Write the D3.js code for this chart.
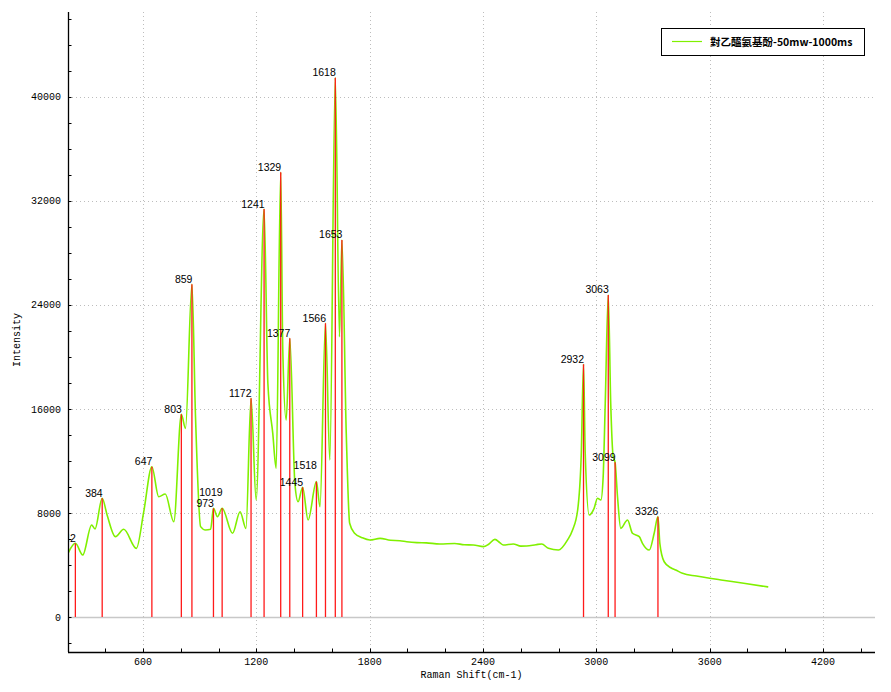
<!DOCTYPE html>
<html><head><meta charset="utf-8">
<script src="https://cdn.jsdelivr.net/npm/d3@7/dist/d3.min.js"></script>
<style>
body{margin:0;background:#fff;}
svg{display:block;}
</style></head>
<body><svg id="chart" width="891" height="692"></svg>
<script>
// ---- data ----
const seriesName = "對乙醯氨基酚-50mw-1000ms";
const shift = [203,242,281,328,346,384,410,454,498,565,604,647,683,718,763,803,825,859,878,905,931,958,973,994,1019,1074,1114,1145,1172,1199,1241,1261,1287,1305,1329,1340,1358,1377,1404,1421,1445,1474,1518,1537,1566,1589,1618,1640,1653,1676,1694,1720,1760,1801,1855,1910,1960,1996,2050,2100,2172,2250,2300,2349,2402,2430,2463,2490,2507,2560,2600,2631,2680,2711,2746,2799,2847,2874,2901,2920,2932,2941,2962,2988,3006,3024,3036,3047,3063,3076,3089,3099,3112,3129,3165,3191,3227,3244,3280,3306,3326,3336,3359,3394,3420,3456,3530,3600,3660,3780,3910];
const intensity = [4900,5670,4770,7080,6770,9130,7850,6180,6750,5280,8100,11560,9250,9460,7330,15590,14510,25590,15410,6950,6690,6750,8360,7720,8360,6440,8100,6820,16820,9000,31380,17980,14130,11440,34210,20540,15150,21440,10280,8870,9980,7460,10410,8480,22590,12080,41490,21560,29000,14130,7210,6440,6100,5920,6050,5900,5870,5790,5720,5700,5620,5650,5560,5540,5410,5600,5970,5700,5540,5620,5450,5460,5560,5620,5280,5150,5920,6690,8230,12500,19440,12590,7850,8360,9130,9000,10790,16440,24770,16440,12330,11900,9250,6820,7460,6440,6180,5670,5150,6440,7720,5670,4250,3790,3620,3360,3150,2980,2850,2600,2310];
const peakShift = [242,384,647,803,859,973,1019,1172,1241,1329,1377,1445,1518,1566,1618,1653,2932,3063,3099,3326];
const peakIntensity = [5670,9130,11560,15590,25590,8360,8360,16820,31380,34210,21440,9980,10410,22590,41490,29000,19440,24770,11900,7720];
const xTickValues = d3.range(400, 4401, 200);
const xLabelValues = [600,1200,1800,2400,3000,3600,4200];
const yTickValues = d3.range(-2000, 46001, 2000);
const yLabelValues = [0,8000,16000,24000,32000,40000];
const xDomain = [203, 4475];
const yDomain = [-2692, 46538];

// ---- layout ----
const L = 68, R = 875, T = 12, B = 652;
const svg = d3.select("#chart");
const x = d3.scaleLinear().domain(xDomain).range([L, R]);
const y = d3.scaleLinear().domain(yDomain).range([B, T]);

svg.append("defs").append("clipPath").attr("id","plotclip")
  .append("rect").attr("x",L).attr("y",T).attr("width",R-L).attr("height",B-T);

// gridlines
const grid = svg.append("g");
grid.selectAll("line.hg").data(yLabelValues.filter(v=>v!==0)).join("line")
  .attr("x1",L).attr("x2",R).attr("y1",d=>Math.round(y(d))+0.5).attr("y2",d=>Math.round(y(d))+0.5)
  .attr("stroke","#bdbdbd").attr("stroke-width",1).attr("stroke-dasharray","1,3");
grid.selectAll("line.vg").data(xLabelValues).join("line")
  .attr("y1",T).attr("y2",B).attr("x1",d=>Math.round(x(d))+0.5).attr("x2",d=>Math.round(x(d))+0.5)
  .attr("stroke","#bdbdbd").attr("stroke-width",1).attr("stroke-dasharray","1,3");
grid.append("line").attr("x1",L).attr("x2",R).attr("y1",Math.round(y(0))+0.5).attr("y2",Math.round(y(0))+0.5)
  .attr("stroke","#c8c8c8").attr("stroke-width",1.5);

// spectrum
const pts = shift.map((s,i)=>[s,intensity[i]]);
const plot = svg.append("g").attr("clip-path","url(#plotclip)");
plot.append("path").datum(pts)
  .attr("fill","none").attr("stroke","#80f000").attr("stroke-width",1.6)
  .attr("d", d3.line().x(d=>x(d[0])).y(d=>y(d[1])).curve(d3.curveMonotoneX));

// peak lines
const peaks = peakShift.map((s,i)=>({s, v:peakIntensity[i]}));
plot.selectAll("line.pk").data(peaks).join("line")
  .attr("x1",d=>x(d.s)).attr("x2",d=>x(d.s))
  .attr("y1",y(0)).attr("y2",d=>y(d.v))
  .attr("stroke","#ff1a1a").attr("stroke-width",1.3);

// peak labels with simple collision avoidance
const placed = [];
const lbl = plot.append("g").attr("font-family","Liberation Sans, Arial, sans-serif").attr("font-size","10.5px").attr("fill","#000");
peaks.forEach(p=>{
  const t = lbl.append("text").attr("text-anchor","end").text(String(p.s));
  const w = t.node().getComputedTextLength();
  const xr = x(p.s) + 0.5, h = 11;
  let base = y(p.v) - 1.5;
  let moved = true;
  while (moved) {
    moved = false;
    for (const b of placed) {
      if (xr - w < b.x2 && xr > b.x1 && base - h < b.y2 && base > b.y1) { base -= h; moved = true; }
    }
  }
  placed.push({x1:xr-w, x2:xr, y1:base-h+1, y2:base});
  t.attr("x", xr).attr("y", base);
});

// axes
const axisFont = "Liberation Mono, DejaVu Sans Mono, monospace";
const ax = svg.append("g");
ax.append("line").attr("x1",L+0.5).attr("x2",L+0.5).attr("y1",T).attr("y2",B).attr("stroke","#000").attr("stroke-width",1.3);
ax.append("line").attr("x1",L).attr("x2",R).attr("y1",B+0.5).attr("y2",B+0.5).attr("stroke","#000").attr("stroke-width",1.3);
ax.selectAll("line.yt").data(yTickValues).join("line")
  .attr("x1",L).attr("x2",L+3.5).attr("y1",d=>Math.round(y(d))+0.5).attr("y2",d=>Math.round(y(d))+0.5)
  .attr("stroke","#000");
ax.selectAll("line.xt").data(xTickValues).join("line")
  .attr("y1",B).attr("y2",B-3.5).attr("x1",d=>Math.round(x(d))+0.5).attr("x2",d=>Math.round(x(d))+0.5)
  .attr("stroke","#000");
ax.selectAll("text.yl").data(yLabelValues).join("text")
  .attr("x",61).attr("y",d=>y(d)+3.5).attr("text-anchor","end")
  .attr("font-family",axisFont).attr("font-size","10px").text(d=>d);
ax.selectAll("text.xl").data(xLabelValues).join("text")
  .attr("x",d=>x(d)).attr("y",B+13).attr("text-anchor","middle")
  .attr("font-family",axisFont).attr("font-size","10px").text(d=>d);
ax.append("text").attr("x",(L+R)/2).attr("y",B+26).attr("text-anchor","middle")
  .attr("font-family",axisFont).attr("font-size","10px").text("Raman Shift(cm-1)");
ax.append("text").attr("transform","translate(20,340) rotate(-90)").attr("text-anchor","middle")
  .attr("font-family",axisFont).attr("font-size","10px").text("Intensity");

// legend
const lg = svg.append("g");
lg.append("rect").attr("x",661.5).attr("y",28.5).attr("width",203).attr("height",27)
  .attr("fill","#fff").attr("stroke","#000").attr("stroke-width",1);
lg.append("line").attr("x1",672).attr("x2",702).attr("y1",41.5).attr("y2",41.5)
  .attr("stroke","#80f000").attr("stroke-width",1.2);
lg.append("text").attr("x",710).attr("y",45.5).attr("font-family","Noto Sans CJK TC, sans-serif")
  .attr("font-weight","bold").attr("font-size","10.5px").text(seriesName);
</script></body></html>
